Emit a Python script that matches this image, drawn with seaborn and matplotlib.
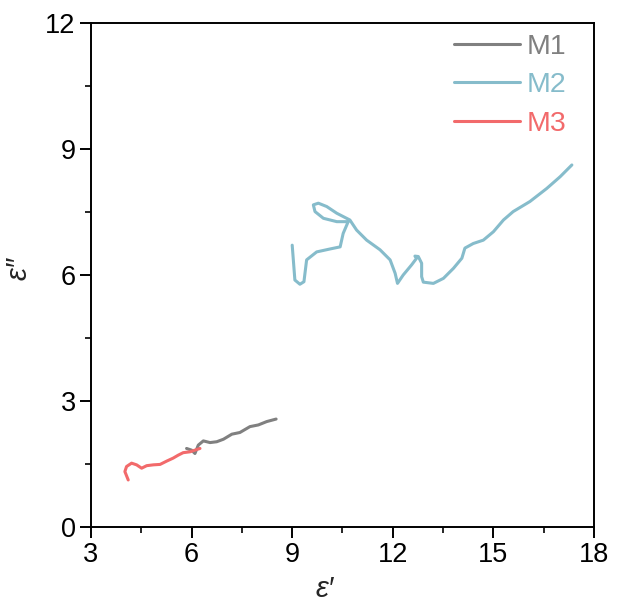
import matplotlib
matplotlib.use("Agg")
import matplotlib.pyplot as plt
from matplotlib.ticker import MultipleLocator
from matplotlib.lines import Line2D
import seaborn as sns
import pandas as pd

# Cole-Cole style traces: real (eps') vs imaginary (eps'') permittivity
m1_real = [5.85, 6.00, 6.10, 6.20, 6.35, 6.55, 6.75, 6.95, 7.20, 7.44, 7.74, 7.99, 8.24, 8.52]
m1_imag = [1.87, 1.83, 1.75, 1.95, 2.05, 2.01, 2.03, 2.09, 2.21, 2.25, 2.39, 2.43, 2.51, 2.57]

m2_real = [9.00, 9.08, 9.23, 9.35, 9.43, 9.73, 10.13, 10.43, 10.52, 10.67,
           10.33, 9.93, 9.68, 9.63, 9.78, 10.03, 10.33, 10.72, 10.92, 11.22,
           11.62, 11.92, 12.07, 12.14, 12.31, 12.56, 12.71, 12.66, 12.76, 12.86,
           12.86, 12.91, 13.21, 13.51, 13.81, 14.06, 14.15, 14.40, 14.70, 15.00,
           15.30, 15.59, 16.09, 16.59, 16.99, 17.34]
m2_imag = [6.71, 5.88, 5.78, 5.84, 6.36, 6.55, 6.62, 6.67, 6.99, 7.27,
           7.27, 7.35, 7.51, 7.67, 7.71, 7.63, 7.47, 7.31, 7.07, 6.83,
           6.60, 6.36, 6.04, 5.80, 6.00, 6.24, 6.40, 6.45, 6.44, 6.28,
           5.96, 5.83, 5.80, 5.92, 6.16, 6.40, 6.64, 6.75, 6.83, 7.03,
           7.31, 7.51, 7.75, 8.06, 8.34, 8.62]

m3_real = [4.11, 4.01, 4.06, 4.21, 4.36, 4.51, 4.66, 4.86, 5.06, 5.26,
           5.45, 5.60, 5.75, 5.95, 6.10, 6.25]
m3_imag = [1.12, 1.32, 1.44, 1.52, 1.48, 1.40, 1.46, 1.48, 1.49, 1.57,
           1.64, 1.71, 1.77, 1.79, 1.83, 1.87]

samples = ["M1", "M2", "M3"]
colors = {"M1": "#808080", "M2": "#86bccb", "M3": "#f26a6b"}

x_ticks = [3, 6, 9, 12, 15, 18]
y_ticks = [0, 3, 6, 9, 12]

df = pd.concat([
    pd.DataFrame({"real": m1_real, "imag": m1_imag, "sample": "M1"}),
    pd.DataFrame({"real": m2_real, "imag": m2_imag, "sample": "M2"}),
    pd.DataFrame({"real": m3_real, "imag": m3_imag, "sample": "M3"}),
], ignore_index=True)

sns.set_style("ticks")
plt.rcParams["font.family"] = ["Liberation Sans", "DejaVu Sans"]

fig = plt.figure(figsize=(6.17, 6.08), dpi=100)
ax = fig.add_axes([91 / 617, 1 - 527 / 608, 503 / 617, 504 / 608])

sns.lineplot(data=df, x="real", y="imag", hue="sample", hue_order=samples,
             palette=colors, sort=False, estimator=None, linewidth=2.2,
             legend=False, ax=ax)
for line in ax.lines:
    line.set_solid_joinstyle("round")
    line.set_solid_capstyle("round")

ax.set_xlim(3, 18)
ax.set_ylim(0, 12)
ax.set_xticks(x_ticks)
ax.set_yticks(y_ticks)
ax.xaxis.set_minor_locator(MultipleLocator(1.5))
ax.yaxis.set_minor_locator(MultipleLocator(1.5))
ax.tick_params(which="major", direction="out", length=8, width=1.4,
               labelsize=19.5, pad=3, color="black", labelcolor="black")
ax.tick_params(which="minor", direction="out", length=4.5, width=1.4)
ax.tick_params(top=False, right=False, which="both")
for sp in ax.spines.values():
    sp.set_linewidth(1.4)
    sp.set_color("black")
    sp.set_visible(True)

ax.set_xlabel("ε′", fontsize=21, style="italic")
ax.set_ylabel("ε″", fontsize=21, style="italic")
ax.xaxis.set_label_coords(0.465, -0.095)
ax.yaxis.set_label_coords(-0.117, 0.513)

handles = [Line2D([0], [0], color=colors[s], linewidth=2.2) for s in samples]
leg = ax.legend(handles, samples, loc="upper right", frameon=False,
                bbox_to_anchor=(0.946, 0.979), borderaxespad=0, borderpad=0,
                fontsize=20.5, handlelength=2.3, handletextpad=0.25,
                labelspacing=0.45, labelcolor="linecolor")

fig.savefig("out.png", dpi=100)
